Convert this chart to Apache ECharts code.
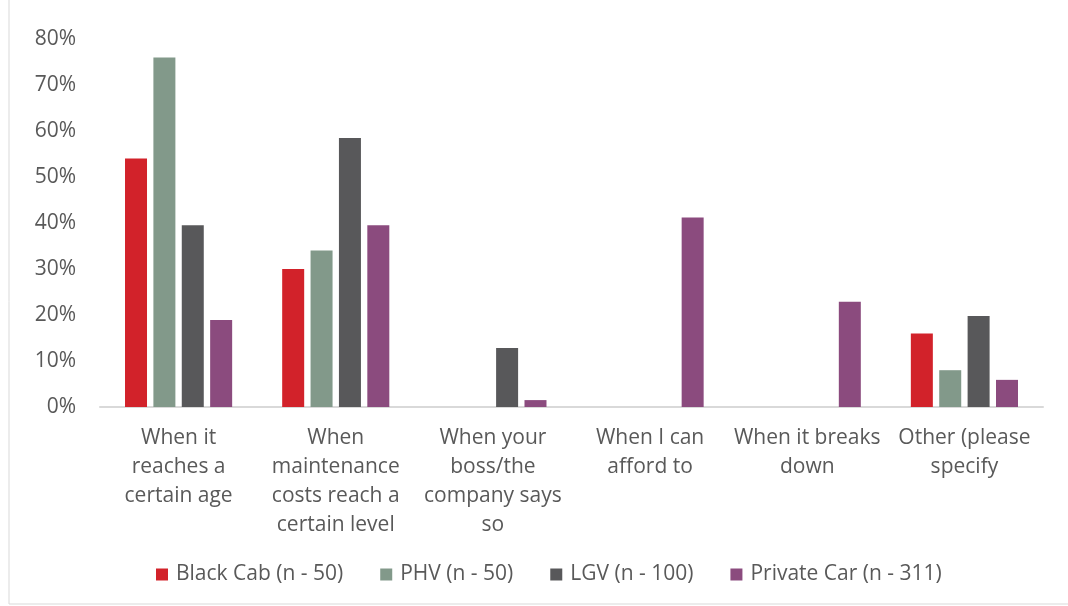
<!DOCTYPE html>
<html>
<head>
<meta charset="utf-8">
<script src="https://cdn.jsdelivr.net/npm/echarts@6/dist/echarts.min.js"></script>
<style>
html,body{margin:0;padding:0;background:#fff;}
#chart{width:1068px;height:606px;}
</style>
</head>
<body>
<div id="chart"></div>
<script>
const categories = [
  "When it\nreaches a\ncertain age",
  "When\nmaintenance\ncosts reach a\ncertain level",
  "When your\nboss/the\ncompany says\nso",
  "When I can\nafford to",
  "When it breaks\ndown",
  "Other (please\nspecify"
];
const seriesNames = ["Black Cab (n - 50)", "PHV (n - 50)", "LGV (n - 100)", "Private Car (n - 311)"];
const blackCab = [54, 30, 0, 0, 0, 16];
const phv = [76, 34, 0, 0, 0, 8];
const lgv = [39.5, 58.5, 12.8, 0, 0, 19.8];
const privateCar = [18.9, 39.5, 1.5, 41.2, 22.9, 5.9];
const yTicks = [0, 10, 20, 30, 40, 50, 60, 70, 80];

const colors = ["#D2222A", "#82998A", "#58585A", "#8B4B7E"];
const values = [blackCab, phv, lgv, privateCar];

const chart = echarts.init(document.getElementById('chart'), null, {renderer: 'canvas'});
const font = "'Open Sans', 'DejaVu Sans', sans-serif";
chart.setOption({
  animation: false,
  backgroundColor: '#fff',
  color: colors,
  grid: {left: 100, right: 25, top: 39, bottom: 199, containLabel: false},
  legend: {
    data: seriesNames,
    left: 151,
    top: 559,
    itemWidth: 12,
    itemHeight: 12,
    itemGap: 37,
    icon: 'rect',
    textStyle: {fontFamily: font, fontSize: 21, color: '#595959', padding: [0, 0, 0, 3]}
  },
  xAxis: {
    type: 'category',
    data: categories,
    axisLine: {lineStyle: {color: '#d9d9d9', width: 2}},
    axisTick: {show: false},
    axisLabel: {
      interval: 0,
      fontFamily: font,
      fontSize: 21,
      color: '#595959',
      lineHeight: 29,
      margin: 17,
      align: 'center'
    }
  },
  yAxis: {
    type: 'value',
    min: yTicks[0],
    max: yTicks[yTicks.length - 1],
    interval: 10,
    axisLine: {show: false},
    axisTick: {show: false},
    splitLine: {show: false},
    axisLabel: {
      fontFamily: font,
      fontSize: 21,
      color: '#595959',
      margin: 24,
      formatter: v => v + '%'
    }
  },
  graphic: [{
    type: 'rect',
    shape: {x: 9, y: -5, width: 1100, height: 609},
    style: {fill: 'none', stroke: '#d9d9d9', lineWidth: 1},
    silent: true
  }],
  series: seriesNames.map((name, i) => ({
    name: name,
    type: 'bar',
    data: values[i],
    barWidth: 22,
    barGap: '29%',
    itemStyle: {color: colors[i]}
  }))
});
</script>
</body>
</html>
